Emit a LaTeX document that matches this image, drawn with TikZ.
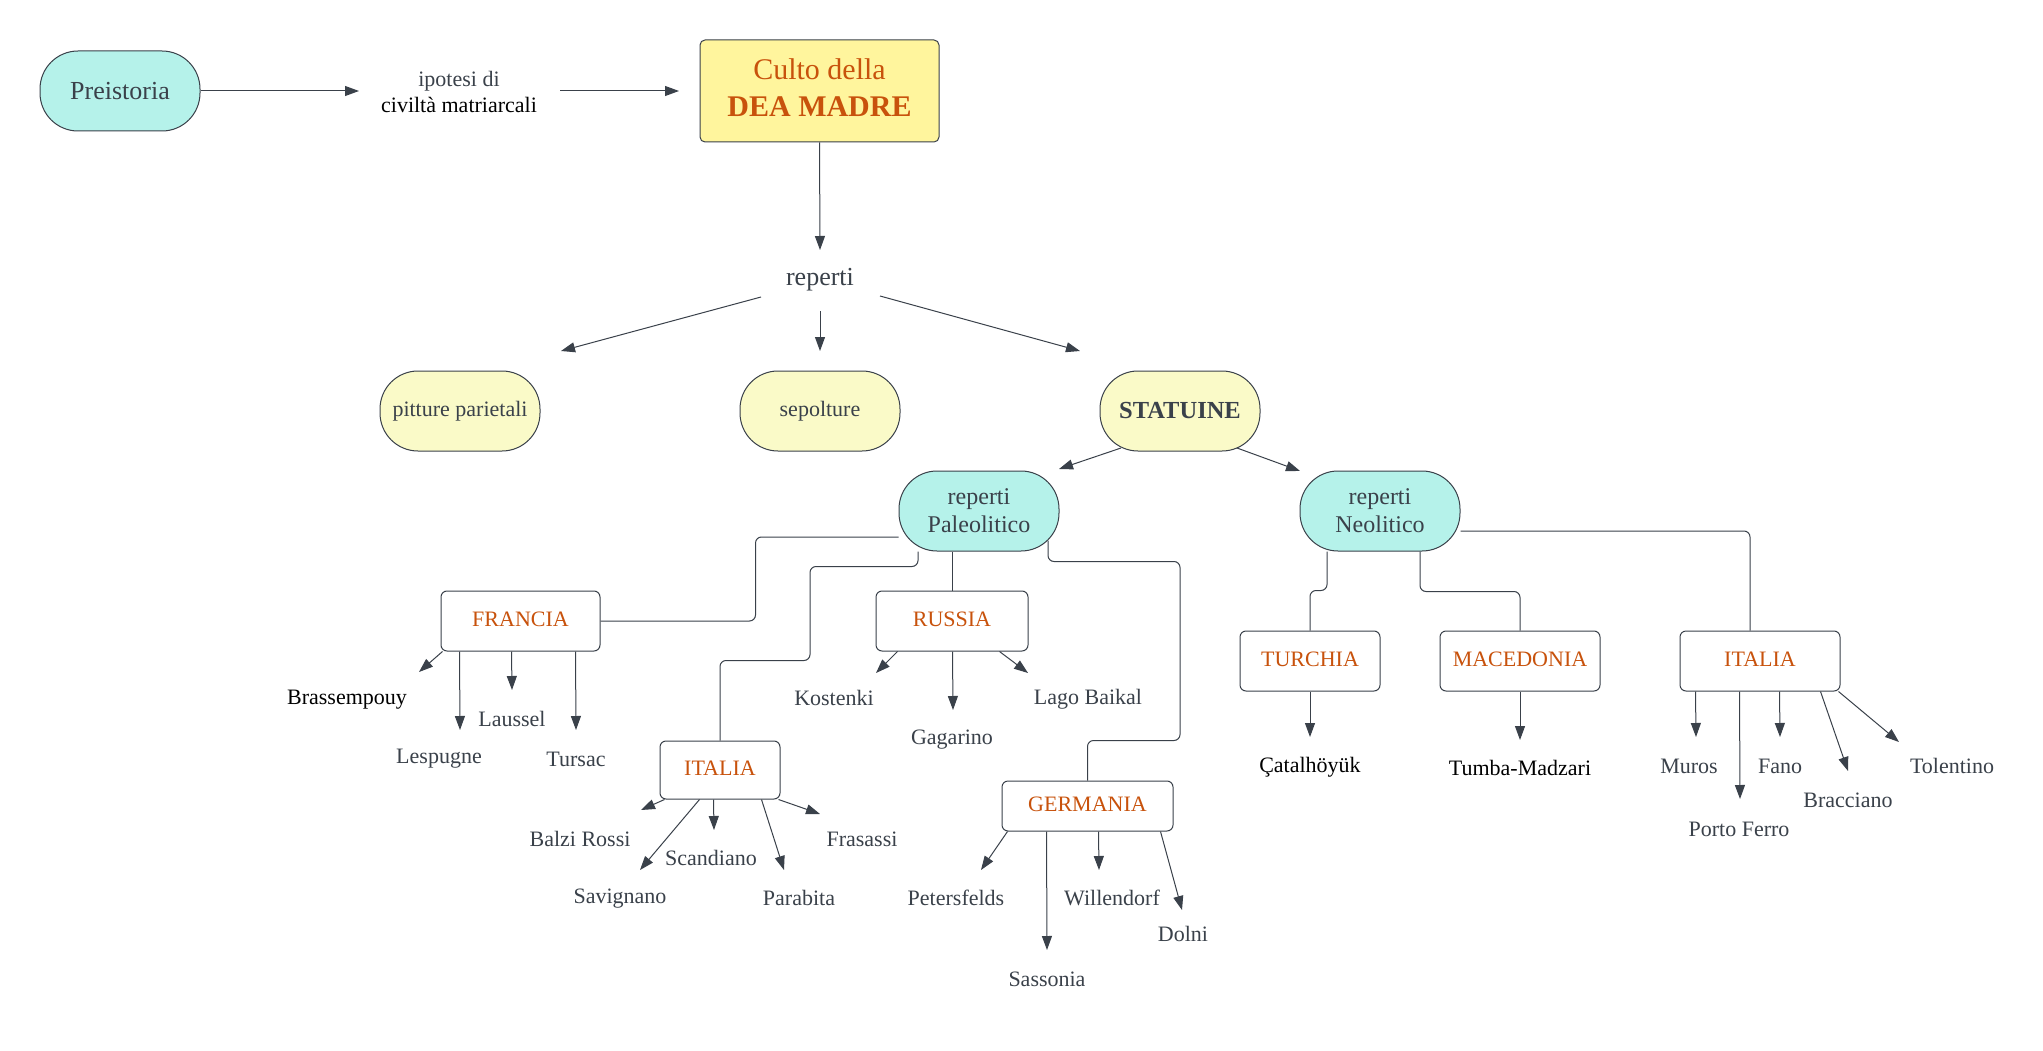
\documentclass[tikz,border=0pt]{standalone}
\usepackage{fontspec}
\setmainfont{Liberation Serif}
\usetikzlibrary{arrows.meta}
\definecolor{ink}{HTML}{3A414A}
\definecolor{org}{HTML}{C8520C}
\definecolor{cyanf}{HTML}{B5F2EA}
\definecolor{pillY}{HTML}{FAFAC8}
\definecolor{boxY}{HTML}{FFF59D}
\definecolor{lin}{HTML}{3A414A}
\begin{document}
\begin{tikzpicture}[x=1pt,y=-1pt,
 pill/.style={draw=lin,line width=1pt,rounded corners=38pt,minimum width=160pt,minimum height=80pt,inner sep=0pt,align=center,text=ink},
 cbox/.style={draw=lin,line width=1pt,rounded corners=6pt,inner sep=0pt,text=org,text depth=4pt,font=\fontsize{22}{26}\selectfont},
 lbl/.style={inner sep=0pt,text=ink,font=\fontsize{22}{26}\selectfont},
 blk/.style={lbl,text=black},
 arr/.style={draw=lin,line width=1pt,-{Triangle[length=14pt,width=10pt]}},
 conn/.style={draw=lin,line width=1pt,rounded corners=6pt},
]
\useasboundingbox (0,0) rectangle (2043,1051);
\fill[white] (0,0) rectangle (2043,1051);

% top row
\node[pill,fill=cyanf,font=\fontsize{26}{30}\selectfont] (pre) at (120,91) {Preistoria};
\node[lbl,align=center] (ipo) at (459,92) {ipotesi di\\\textcolor{black}{civiltà matriarcali}};
\node[draw=lin,line width=1pt,rounded corners=5pt,fill=boxY,minimum width=239pt,minimum height=102pt,inner sep=0pt] (culto) at (819.5,91) {};
\node[align=center,text=org,inner sep=0pt,font=\fontsize{30}{37}\selectfont] (cultotxt) at (819.5,88) {Culto della\\\textbf{DEA MADRE}};
\node[lbl,font=\fontsize{26}{30}\selectfont] (rep) at (820,280) {reperti};

\node[pill,fill=pillY,font=\fontsize{22}{26}\selectfont] (pit) at (460,411) {pitture parietali};
\node[pill,fill=pillY,font=\fontsize{22}{26}\selectfont] (sep) at (820,411) {sepolture};
\node[pill,fill=pillY,font=\fontsize{24.5}{28}\selectfont\bfseries] (sta) at (1180,411) {STATUINE};
\node[pill,fill=cyanf,font=\fontsize{24}{28}\selectfont] (pal) at (979,511) {reperti\\Paleolitico};
\node[pill,fill=cyanf,font=\fontsize{24}{28}\selectfont] (neo) at (1380,511) {reperti\\Neolitico};

% country boxes
\node[cbox,minimum width=159pt,minimum height=60pt] (fr) at (520.5,621) {FRANCIA};
\node[cbox,minimum width=120pt,minimum height=58pt] (it1) at (720,770) {ITALIA};
\node[cbox,minimum width=152pt,minimum height=60pt] (ru) at (952,621) {RUSSIA};
\node[cbox,minimum width=171pt,minimum height=50pt] (ge) at (1087.5,806) {GERMANIA};
\node[cbox,minimum width=140pt,minimum height=60pt] (tu) at (1310,661) {TURCHIA};
\node[cbox,minimum width=160pt,minimum height=60pt] (ma) at (1520,661) {MACEDONIA};
\node[cbox,minimum width=160pt,minimum height=60pt] (it2) at (1760,661) {ITALIA};

% leaves
\node[blk] (brass) at (347,700) {Brassempouy};
\node[lbl] (lesp) at (439,759) {Lespugne};
\node[lbl] (laus) at (512,719) {Laussel};
\node[lbl] (turs) at (576,759) {Tursac};
\node[lbl] (balzi) at (580,839) {Balzi Rossi};
\node[lbl] (savi) at (620,899) {Savignano};
\node[lbl] (scan) at (711,858) {Scandiano};
\node[lbl] (para) at (799,898) {Parabita};
\node[lbl] (fras) at (862,839) {Frasassi};
\node[lbl] (kost) at (834,698) {Kostenki};
\node[lbl] (gaga) at (952,740) {Gagarino};
\node[lbl] (lago) at (1088,699) {Lago Baikal};
\node[lbl] (pete) at (956,898) {Petersfelds};
\node[lbl] (sass) at (1047,979) {Sassonia};
\node[lbl] (will) at (1112,898) {Willendorf};
\node[lbl] (doln) at (1183,934) {Dolni};
\node[blk] (cata) at (1310,767) {Çatalhöyük};
\node[blk] (tumb) at (1520,768) {Tumba-Madzari};
\node[lbl] (muro) at (1689,766) {Muros};
\node[lbl] (port) at (1739,829) {Porto Ferro};
\node[lbl] (fano) at (1780,766) {Fano};
\node[lbl] (brac) at (1848,800) {Bracciano};
\node[lbl] (tole) at (1952,766) {Tolentino};

% arrow end coordinates
\coordinate (tIpo) at (359,91);
\coordinate (sIpo) at (560,91);
\coordinate (tCul) at (679,91);
\coordinate (tRep) at (820,250);
\coordinate (sR1) at (761,297); \coordinate (tR1) at (561,351);
\coordinate (sR2) at (820,311); \coordinate (tR2) at (820,351);
\coordinate (sR3) at (880,296); \coordinate (tR3) at (1080,351);
\coordinate (sS1) at (1121,448); \coordinate (tS1) at (1059,469);
\coordinate (sS2) at (1237,448); \coordinate (tS2) at (1300,471);

\draw[arr] (pre.east) -- (tIpo);
\draw[arr] (sIpo) -- (tCul);
\draw[arr] (culto.south) -- (tRep);
\draw[arr] (sR1) -- (tR1);
\draw[arr] (sR2) -- (tR2);
\draw[arr] (sR3) -- (tR3);
\draw[arr] (sS1) -- (tS1);
\draw[arr] (sS2) -- (tS2);

% tree connectors
\draw[conn] ([yshift=-26pt]pal.west) -- ++(-143,0) |- (fr.east);
\draw[conn] ([xshift=-61pt]pal.south) -- ++(0,15) -- ++(-108,0) -- ++(0,94) -| (it1.north);
\draw[conn] (ru.north |- pal.south) -- (ru.north);
\draw[conn] ([xshift=69pt,yshift=11pt]pal.south) -- ++(0,21) -- ++(132,0) -- ++(0,179) -| (ge.north);
\draw[conn] ([xshift=-53pt]neo.south) -- ++(0,39) -| (tu.north);
\draw[conn] ([xshift=40pt]neo.south) -- ++(0,40) -| (ma.north);
\draw[conn] ([yshift=-20pt]neo.east) -| ([xshift=-10pt]it2.north);

% leaf arrows
\draw[arr] ([xshift=2pt]fr.south west) -- (419,672) coordinate (tBrass);
\draw[arr] ([xshift=19pt]fr.south west) -- (460,730) coordinate (tLesp);
\draw[arr] ([xshift=71pt]fr.south west) -- (512,690) coordinate (tLaus);
\draw[arr] ([xshift=135pt]fr.south west) -- (576,730) coordinate (tTurs);

\draw[arr] ([xshift=5pt]it1.south west) -- (641,810) coordinate (tBalzi);
\draw[arr] ([xshift=40pt]it1.south west) -- (640,870) coordinate (tSavi);
\draw[arr] ([xshift=54pt]it1.south west) -- (714,830) coordinate (tScan);
\draw[arr] ([xshift=102pt]it1.south west) -- (784,870) coordinate (tPara);
\draw[arr] ([xshift=-2pt]it1.south east) -- (820,814) coordinate (tFras);

\draw[arr] ([xshift=22pt]ru.south west) -- (876,673) coordinate (tKost);
\draw[arr] ([xshift=77pt]ru.south west) -- (953,710) coordinate (tGaga);
\draw[arr] ([xshift=124pt]ru.south west) -- (1028,673) coordinate (tLago);

\draw[arr] ([xshift=6pt]ge.south west) -- (981,870) coordinate (tPete);
\draw[arr] ([xshift=45pt]ge.south west) -- (1047,950) coordinate (tSass);
\draw[arr] ([xshift=97pt]ge.south west) -- (1099,870) coordinate (tWill);
\draw[arr] ([xshift=159pt]ge.south west) -- (1182,910) coordinate (tDoln);

\draw[arr] (tu.south) -- (1310,737) coordinate (tCata);
\draw[arr] (ma.south) -- (1520,740) coordinate (tTumb);

\draw[arr] ([xshift=16pt]it2.south west) -- (1696,737) coordinate (tMuro);
\draw[arr] ([xshift=60pt]it2.south west) -- (1740,799) coordinate (tPort);
\draw[arr] ([xshift=100pt]it2.south west) -- (1780,737) coordinate (tFano);
\draw[arr] ([xshift=141pt]it2.south west) -- (1848,771) coordinate (tBrac);
\draw[arr] ([xshift=159pt]it2.south west) -- (1899,742) coordinate (tTole);
\end{tikzpicture}
\end{document}
